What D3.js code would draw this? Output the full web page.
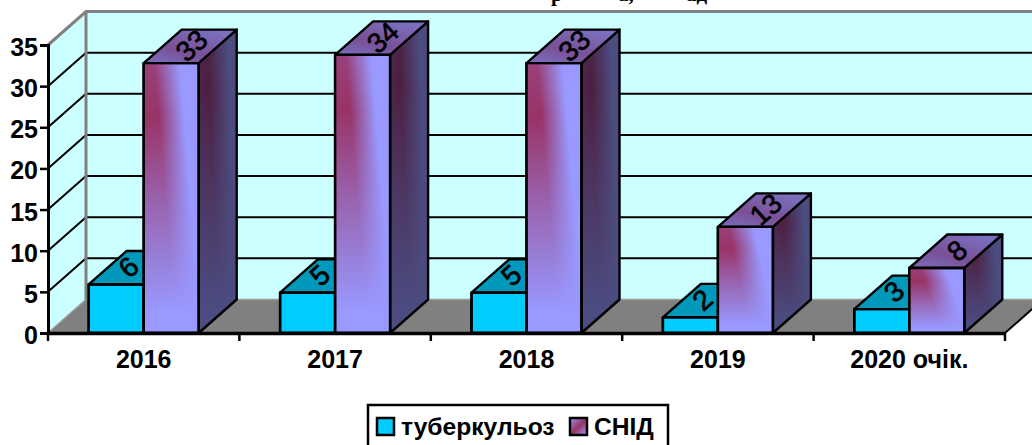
<!DOCTYPE html>
<html>
  <head>
    <meta charset="utf-8">
    <title>Chart</title>
    <script src="https://cdn.jsdelivr.net/npm/d3@7"></script>
    <style>
      html, body { margin: 0; padding: 0; background: #fff; overflow: hidden; }
      text { font-family: "Liberation Sans", Arial, sans-serif; fill: #000; }
    </style>
  </head>
  <body>
    <div id="chart"></div>
    <script>
      // values
      var categories = ['2016', '2017', '2018', '2019', '2020 очік.']
      var seriesNames = ['туберкульоз', 'СНІД']
      var tuberculosis = [5.9, 4.9, 4.9, 1.9, 2.9]
      var aids = [32.8, 33.8, 32.8, 12.9, 7.9]
      var yTicks = [0, 5, 10, 15, 20, 25, 30, 35]
      // the title is cut off by the top of the image, only these bits show
      var titleBits = ['р', 'а,', 'ад']

      var width = 1032, height = 445
      var depthX = 38, depthY = -33.5   // 3d offset of the back wall

      var svg = d3.select('#chart').append('svg')
        .attr('width', width)
        .attr('height', height)
        .style('display', 'block')

      var x = d3.scaleBand().domain(categories).range([48, 1005])
      var xSeries = d3.scaleBand().domain(seriesNames).range([0, x.bandwidth()])
        .paddingInner(0).paddingOuter(0.74)
      var y = d3.scaleLinear().domain([0, 35]).range([333, 45])

      var line = d3.line()
      function poly(points) { return line(points) + 'Z' }

      // ---- gradients
      var defs = svg.append('defs')

      function linear(id, x1, y1, x2, y2, stops) {
        var g = defs.append('linearGradient').attr('id', id)
          .attr('x1', x1).attr('y1', y1).attr('x2', x2).attr('y2', y2)
        stops.forEach(function(s) {
          g.append('stop').attr('offset', s[0]).attr('stop-color', s[1]).attr('stop-opacity', s[2])
        })
      }

      linear('frontBand', 0, 0, 0.556, -0.229, [[0, '#993366', 1], [0.3, '#993366', 1], [1, '#993366', 0]])
      linear('sideBand', 0, 0, 0.7, -0.2, [[0, '#4d1f40', 0.9], [0.3, '#4d1f40', 1], [1, '#4d1f40', 0]])
      linear('topBand', 0, 1, 0.7, 0, [[0, '#7a70c0', 1], [0.45, '#7a5096', 1], [1, '#7a70c0', 1]])
      linear('fade', 0, 0, 0, 1, [[0, '#ddd', 1], [0.2, '#fff', 1], [0.5, '#8c8c8c', 1], [0.92, '#000', 1]])
      linear('legendSwatch', 0, 0, 1, 1, [[0, '#9999ff', 1], [0.5, '#993366', 1], [1, '#9999ff', 1]])

      defs.append('mask').attr('id', 'fadeMask')
        .attr('maskContentUnits', 'objectBoundingBox')
        .append('rect').attr('width', 1).attr('height', 1).attr('fill', 'url(#fade)')

      // ---- title remains
      svg.append('text')
        .attr('y', 1)
        .style('font-family', '"Liberation Serif", serif')
        .style('font-weight', 'bold')
        .style('font-size', '21px')
        .selectAll('tspan').data(titleBits).enter().append('tspan')
        .attr('x', function(d, i) { return [551, 618, 686][i] })
        .text(function(d) { return d })

      // ---- walls and floor
      var x0 = x.range()[0], x1 = x.range()[1]
      svg.append('path')
        .attr('d', poly([[x0 + depthX, y(35) + depthY], [x1 + depthX, y(35) + depthY], [x1 + depthX, y(0) + depthY], [x0 + depthX, y(0) + depthY]]))
        .attr('fill', '#ccffff')
      svg.append('path')
        .attr('d', poly([[x0, y(35)], [x0 + depthX, y(35) + depthY], [x0 + depthX, y(0) + depthY], [x0, y(0)]]))
        .attr('fill', '#ccffff')

      // gridlines, back wall and side wall
      var gridValues = yTicks.filter(function(d) { return d > 0 && d < 35 })
      svg.append('g').selectAll('path').data(gridValues).enter().append('path')
        .attr('d', function(d) {
          return line([[x0, y(d)], [x0 + depthX, y(d) + depthY], [x1 + depthX, y(d) + depthY]])
        })
        .attr('fill', 'none')
        .attr('stroke', '#000')
        .attr('stroke-width', 2)

      svg.append('path')
        .attr('d', poly([[x0, y(0)], [x0 + depthX, y(0) + depthY], [x1 + depthX, y(0) + depthY], [x1, y(0)]]))
        .attr('fill', '#808080')
      svg.append('path')
        .attr('d', line([[x0, y(0)], [x0 + depthX, y(0) + depthY], [x1 + depthX, y(0) + depthY]]))
        .attr('fill', 'none').attr('stroke', '#999').attr('stroke-width', 1.5)
      svg.append('path')
        .attr('d', line([[x1, y(0)], [x1 + depthX, y(0) + depthY]]))
        .attr('fill', 'none').attr('stroke', '#000').attr('stroke-width', 2)
      svg.append('path')
        .attr('d', line([[x0, y(35)], [x0 + depthX, y(35) + depthY], [x1 + depthX, y(35) + depthY]]))
        .attr('fill', 'none').attr('stroke', '#808080').attr('stroke-width', 3)
      svg.append('path')
        .attr('d', line([[x0 + depthX, y(35) + depthY], [x0 + depthX, y(0) + depthY]]))
        .attr('fill', 'none').attr('stroke', '#808080').attr('stroke-width', 3)

      // ---- bars, one category at a time so later ones sit in front
      var bars = []
      categories.forEach(function(c, i) {
        bars.push({cat: c, name: seriesNames[0], value: tuberculosis[i]})
        bars.push({cat: c, name: seriesNames[1], value: aids[i]})
      })

      var barG = svg.append('g').selectAll('g').data(bars).enter().append('g')
        .attr('stroke', '#000')
        .attr('stroke-width', 2.4)
        .attr('stroke-linejoin', 'round')

      function left(d) { return x(d.cat) + xSeries(d.name) }
      function right(d) { return left(d) + xSeries.bandwidth() }
      function isAids(d) { return d.name === seriesNames[1] }

      function sidePts(d) {
        return [[right(d), y(d.value)], [right(d) + depthX, y(d.value) + depthY], [right(d) + depthX, y(0) + depthY], [right(d), y(0)]]
      }
      function topPts(d) {
        return [[left(d), y(d.value)], [left(d) + depthX, y(d.value) + depthY], [right(d) + depthX, y(d.value) + depthY], [right(d), y(d.value)]]
      }
      function frontPts(d) {
        return [[left(d), y(d.value)], [right(d), y(d.value)], [right(d), y(0)], [left(d), y(0)]]
      }

      barG.append('path').attr('d', function(d) { return poly(sidePts(d)) })
        .attr('fill', function(d) { return isAids(d) ? '#4c4c80' : '#006680' })
      barG.filter(isAids).append('path').attr('d', function(d) { return poly(sidePts(d)) })
        .attr('fill', 'url(#sideBand)').attr('stroke', 'none').attr('mask', 'url(#fadeMask)')
      barG.append('path').attr('d', function(d) { return poly(topPts(d)) })
        .attr('fill', function(d) { return isAids(d) ? 'url(#topBand)' : '#0099bb' })
      barG.append('path').attr('d', function(d) { return poly(frontPts(d)) })
        .attr('fill', function(d) { return isAids(d) ? '#9999ff' : '#00ccff' })
      barG.filter(isAids).append('path').attr('d', function(d) { return poly(frontPts(d)) })
        .attr('fill', 'url(#frontBand)').attr('stroke', 'none').attr('mask', 'url(#fadeMask)')
      barG.append('path').attr('d', function(d) { return poly(frontPts(d)) })
        .attr('fill', 'none')

      // value labels lie on the top face
      svg.append('g').selectAll('text').data(bars).enter().append('text')
        .attr('transform', function(d) {
          var cx = (left(d) + right(d)) / 2 + depthX / 2 + (isAids(d) ? 1 : -7)
          var cy = y(d.value) + depthY / 2 - 1
          return 'translate(' + cx + ',' + cy + ') rotate(-42)'
        })
        .attr('text-anchor', 'middle')
        .attr('dy', '0.36em')
        .style('font-size', '28px')
        .attr('stroke', '#000').attr('stroke-width', 0.7)
        .text(function(d) { return d3.format('.0f')(d.value) })

      // ---- axes
      var yAxis = svg.append('g')
        .attr('transform', 'translate(' + x0 + ',0)')
        .call(d3.axisLeft(y).tickValues(yTicks).tickSize(8).tickPadding(2))
      yAxis.selectAll('.domain').attr('stroke-width', 3)
      yAxis.selectAll('line').attr('stroke-width', 2.5)
      yAxis.selectAll('text')
        .attr('dy', '0.42em')
        .style('font-size', '25px')
        .style('font-weight', 'bold')
        .style('font-family', '"Liberation Sans", Arial, sans-serif')

      var xAxis = svg.append('g')
        .attr('transform', 'translate(0,' + y(0) + ')')
        .call(d3.axisBottom(x).tickSize(0).tickPadding(17))
      xAxis.selectAll('.domain').attr('stroke-width', 3.5)
      xAxis.selectAll('text')
        .style('font-size', '25px')
        .style('font-weight', 'bold')
        .style('font-family', '"Liberation Sans", Arial, sans-serif')

      // ticks sit between the categories
      svg.append('g').selectAll('line').data(categories.concat(['end'])).enter().append('line')
        .attr('x1', function(d, i) { return x0 + i * x.step() })
        .attr('x2', function(d, i) { return x0 + i * x.step() })
        .attr('y1', y(0))
        .attr('y2', y(0) + 8)
        .attr('stroke', '#000')
        .attr('stroke-width', 2.5)

      // ---- legend
      var legend = svg.append('g')
      legend.append('rect')
        .attr('x', 368).attr('y', 405).attr('width', 300).attr('height', 50)
        .attr('fill', '#fff').attr('stroke', '#000').attr('stroke-width', 2.5)

      var legendX = d3.scaleOrdinal().domain(seriesNames).range([377, 570])
      var legendItem = legend.selectAll('g').data(seriesNames).enter().append('g')
        .attr('transform', function(d) { return 'translate(' + legendX(d) + ',418)' })
      legendItem.append('rect')
        .attr('width', 17).attr('height', 17)
        .attr('fill', function(d, i) { return i === 0 ? '#00ccff' : 'url(#legendSwatch)' })
        .attr('stroke', '#000').attr('stroke-width', 2.5)
      legendItem.append('text')
        .attr('x', 24).attr('y', 17)
        .style('font-size', '24.6px')
        .style('font-weight', 'bold')
        .text(function(d) { return d })
    </script>
  </body>
</html>
